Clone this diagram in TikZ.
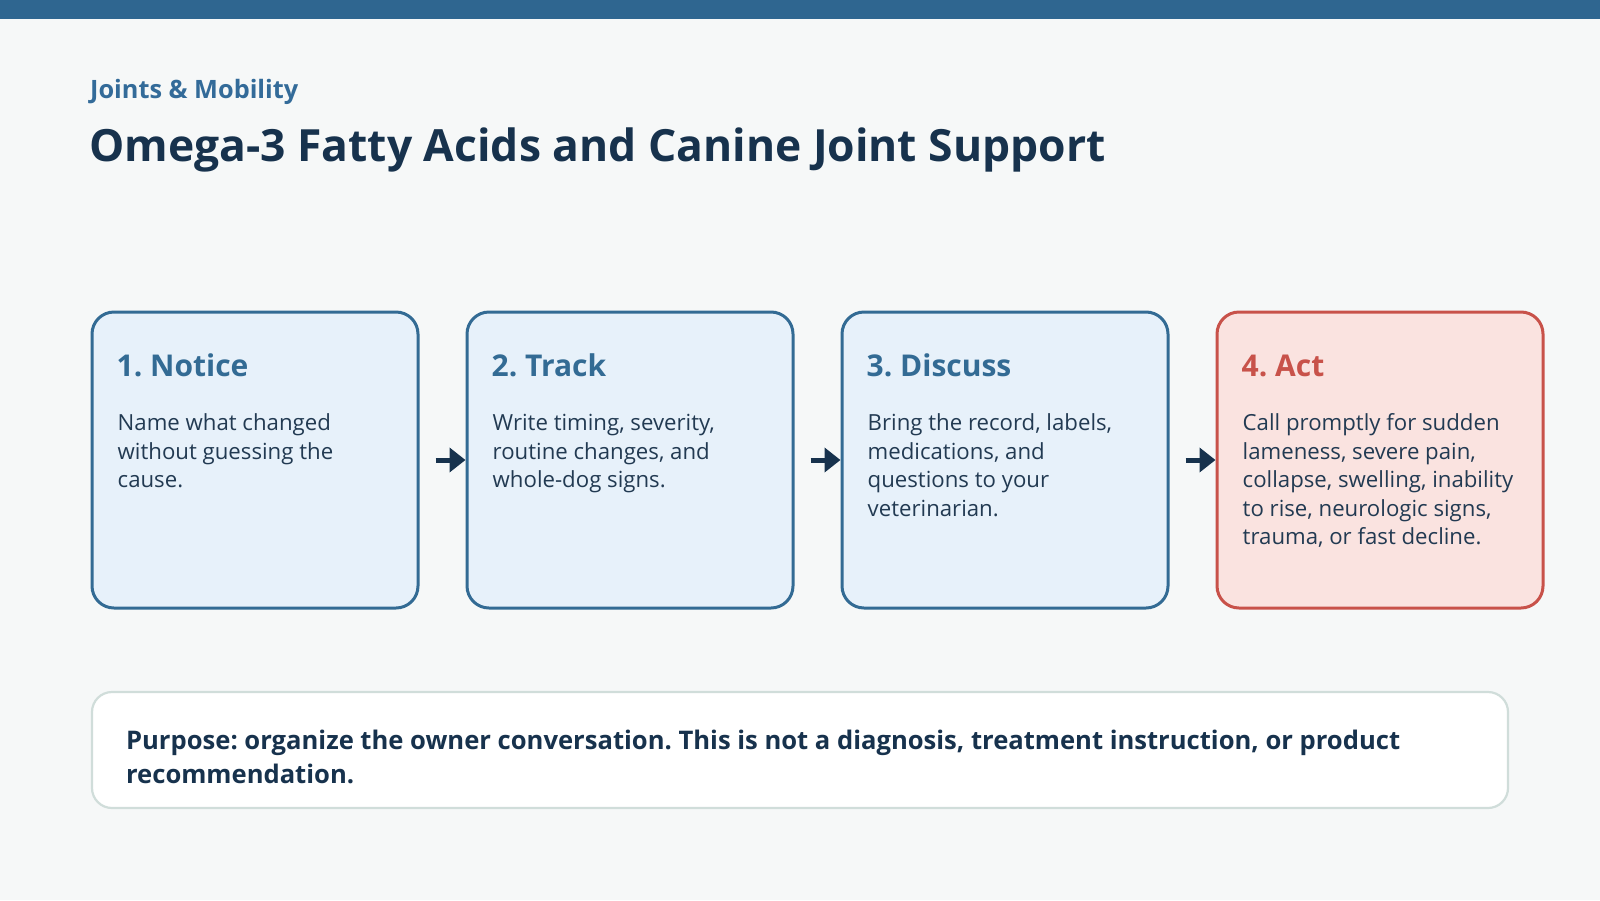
\documentclass[tikz,border=0pt]{standalone}
\usepackage{fontspec}
\IfFontExistsTF{NotoSans-Bold.ttf}{%
  \setmainfont{Noto Sans}[BoldFont=NotoSans-Bold.ttf]}{%
  \IfFontExistsTF{Open Sans Bold}{%
    \setmainfont{Open Sans}[BoldFont={Open Sans Bold}]}{%
    \setmainfont{Fira Sans}}}
\usetikzlibrary{arrows.meta,calc}
\definecolor{bg}{HTML}{F6F8F8}
\definecolor{bar}{HTML}{2F6690}
\definecolor{navy}{HTML}{17324D}
\definecolor{kicker}{HTML}{336B99}
\definecolor{bluebd}{HTML}{336B94}
\definecolor{bluefill}{HTML}{E7F1FA}
\definecolor{redbd}{HTML}{C8524A}
\definecolor{redfill}{HTML}{FAE3E0}
\definecolor{bodytxt}{HTML}{223A52}
\definecolor{notebd}{HTML}{D0DDDA}
\frenchspacing
\newcommand{\mylines}[1]{\begin{tabular}[t]{@{}l@{}}#1\end{tabular}}
\begin{document}
\begin{tikzpicture}[x=1pt,y=-1pt,
  card/.style={draw=bluebd, fill=bluefill, line width=3pt, rounded corners=22pt,
    minimum width=326pt, minimum height=296pt, inner sep=0pt},
  redcard/.style={card, draw=redbd, fill=redfill},
  cardtitle/.style={anchor=base west, inner sep=0pt, text=bluebd,
    font=\fontsize{30}{37}\selectfont\bfseries},
  cardbody/.style={anchor=base west, inner sep=0pt, text=bodytxt,
    font=\fontsize{22.2}{28.5}\selectfont},
  flow/.style={draw=navy, line width=5pt, -{Triangle[length=16pt,width=24pt]}},
  notebox/.style={draw=notebd, fill=white, line width=2.2pt, rounded corners=20pt,
    minimum width=1416pt, minimum height=116pt, inner sep=0pt}
]
\fill[bg] (0,0) rectangle (1600,900);
\useasboundingbox (0,0) rectangle (1600,900);
\fill[bar] (0,0) rectangle (1600,19);

\node[anchor=base west, inner sep=0pt, text=kicker, font=\fontsize{25.3}{30}\selectfont\bfseries]
  (kick) at (90,98) {Joints \& Mobility};
\node[anchor=base west, inner sep=0pt, text=navy, font=\fontsize{44.4}{55}\selectfont\bfseries]
  (title) at (89,161) {Omega-3 Fatty Acids and Canine Joint Support};

\node[card] (b1) at (255,460) {};
\node[card] (b2) at (630,460) {};
\node[card] (b3) at (1005,460) {};
\node[redcard] (b4) at (1380,460) {};

\node[cardtitle] (t1) at ($(b1.north west)+(26,66)$) {1. Notice};
\node[cardtitle] (t2) at ($(b2.north west)+(26,66)$) {2. Track};
\node[cardtitle] (t3) at ($(b3.north west)+(26,66)$) {3. Discuss};
\node[cardtitle, text=redbd] (t4) at ($(b4.north west)+(26,66)$) {4. Act};

\node[cardbody] (d1) at ($(b1.north west)+(27,120)$)
  {\mylines{Name what changed\\without guessing the\\cause.}};
\node[cardbody] (d2) at ($(b2.north west)+(27,120)$)
  {\mylines{Write timing, severity,\\routine changes, and\\whole-dog signs.}};
\node[cardbody] (d3) at ($(b3.north west)+(27,120)$)
  {\mylines{Bring the record, labels,\\medications, and\\questions to your\\veterinarian.}};
\node[cardbody] (d4) at ($(b4.north west)+(27,120)$)
  {\mylines{Call promptly for sudden\\lameness, severe pain,\\collapse, swelling, inability\\to rise, neurologic signs,\\trauma, or fast decline.}};

\draw[flow] ([xshift=16pt]b1.east) -- (b2.west);
\draw[flow] ([xshift=16pt]b2.east) -- (b3.west);
\draw[flow] ([xshift=16pt]b3.east) -- (b4.west);

\node[notebox] (note) at (800,750) {};
\node[anchor=base west, inner sep=0pt, text=navy, font=\fontsize{25.6}{34}\selectfont\bfseries]
  (notetext) at ($(note.north west)+(35,59)$)
  {\mylines{Purpose: organize the owner conversation. This is not a diagnosis, treatment instruction, or product\\recommendation.}};
\end{tikzpicture}
\end{document}
